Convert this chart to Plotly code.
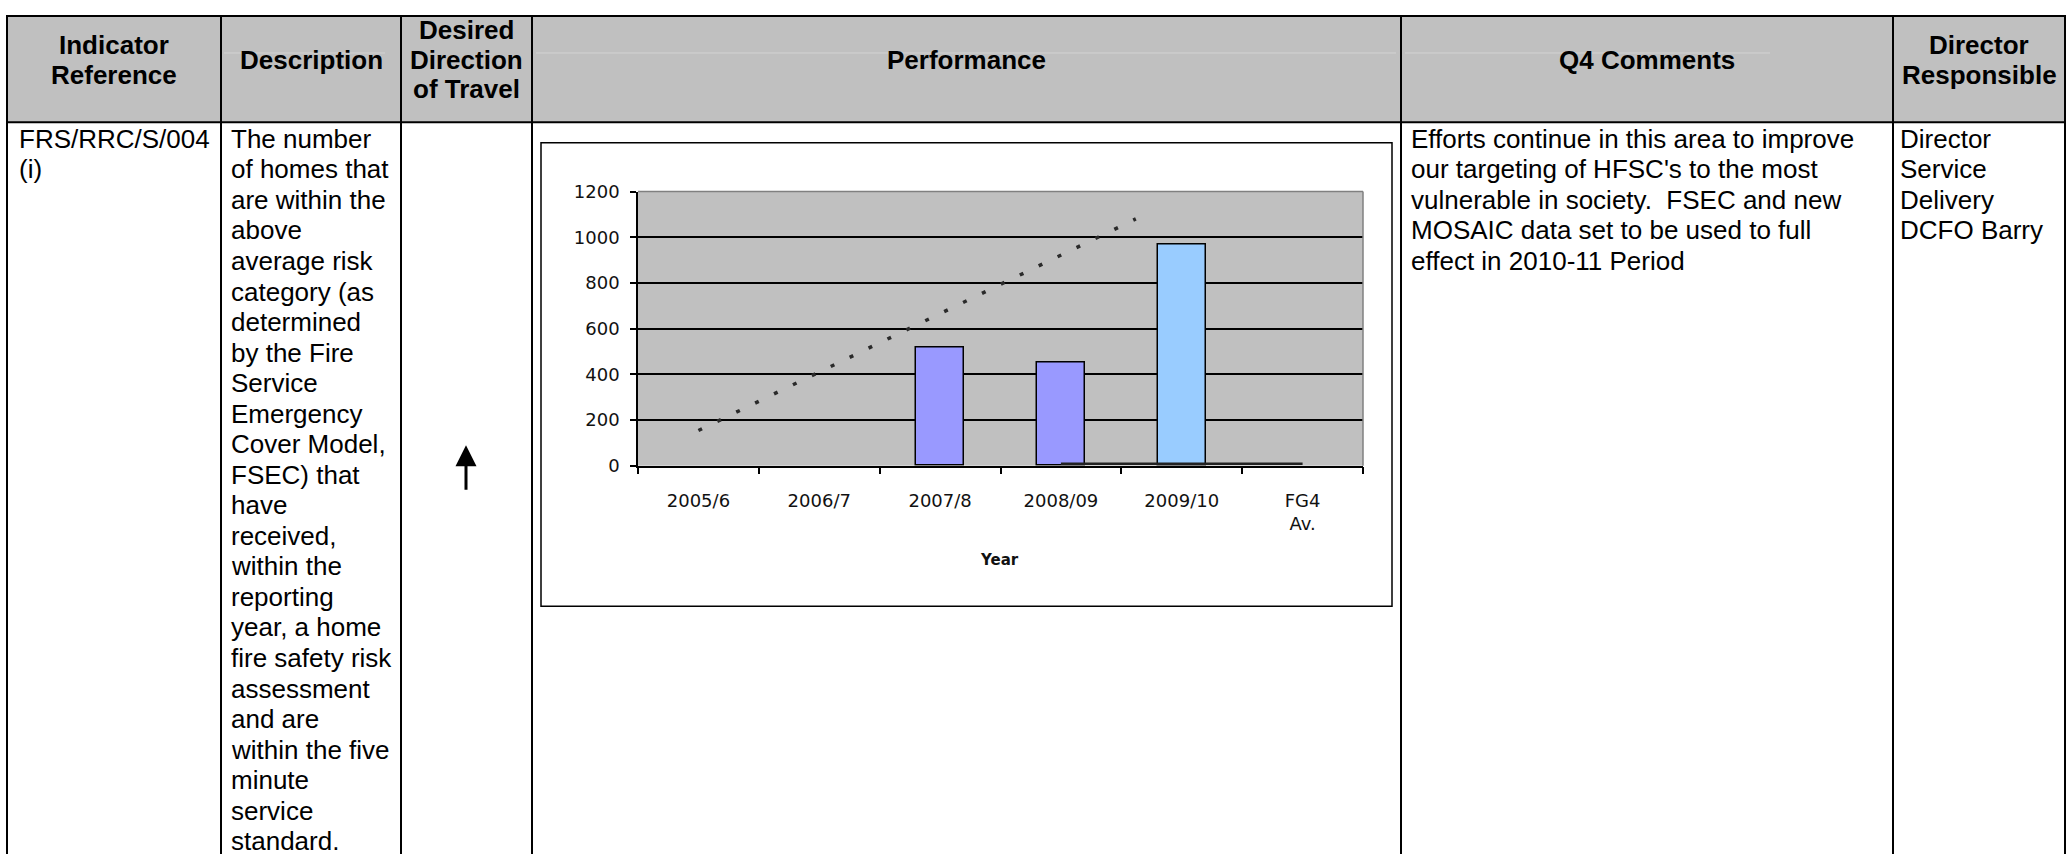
import plotly.graph_objects as go

# ---------------- data ----------------
categories = ["2005/6", "2006/7", "2007/8", "2008/09", "2009/10", "FG4<br>Av."]
performance = [None, None, 517, 450, 967, None]
fg4_average = [None, None, None, 8, 8, 8]
trend_index = [0, 3.62]
trend_value = [154, 1080]
y_ticks = [0, 200, 400, 600, 800, 1000, 1200]

header_indicator = ["Indicator", "Reference"]
header_description = ["Description"]
header_direction = ["Desired", "Direction", "of Travel"]
header_performance = ["Performance"]
header_comments = ["Q4 Comments"]
header_director = ["Director", "Responsible"]

indicator_ref = ["FRS/RRC/S/004", "(i)"]
description = ["The number", "of homes that", "are within the", "above", "average risk",
               "category (as", "determined", "by the Fire", "Service", "Emergency",
               "Cover Model,", "FSEC) that", "have", "received,", "within the",
               "reporting", "year, a home", "fire safety risk", "assessment", "and are",
               "within the five", "minute", "service", "standard."]
comments = ["Efforts continue in this area to improve",
            "our targeting of HFSC's to the most",
            "vulnerable in society. \u00a0FSEC and new",
            "MOSAIC data set to be used to full",
            "effect in 2010-11 Period"]
director = ["Director", "Service", "Delivery", "DCFO Barry"]

# ---------------- geometry helpers ----------------
W, H = 2071, 864
def px(x):
    return x / W
def py(y):
    return 1 - y / H

TABLE_FONT = "Liberation Sans, Arial, sans-serif"
CHART_FONT = "DejaVu Sans, Verdana, sans-serif"

fig = go.Figure()

bar_colors = ["#9999ff", "#9999ff", "#9999ff", "#9999ff", "#99ccff", "#9999ff"]
fig.add_trace(go.Bar(x=list(range(len(categories))), y=performance, width=0.4,
                     marker=dict(color=bar_colors, line=dict(color="black", width=1.5)),
                     showlegend=False, hoverinfo="skip"))
fig.add_trace(go.Scatter(x=list(range(len(categories))), y=fg4_average, mode="lines",
                         line=dict(color="#222222", width=2.5), showlegend=False,
                         hoverinfo="skip"))
fig.add_trace(go.Scatter(x=trend_index, y=trend_value, mode="lines",
                         line=dict(color="#2a2a2a", width=3.5, dash="4px,17px"),
                         showlegend=False, hoverinfo="skip"))

PL, PR, PT, PB = 638, 1363, 185, 466
fig.update_layout(
    width=W, height=H, margin=dict(l=0, r=0, t=0, b=0),
    paper_bgcolor="white", plot_bgcolor="#c0c0c0",
    xaxis=dict(domain=[px(PL), px(PR)], range=[-0.5, 5.5], tickmode="array",
               tickvals=list(range(len(categories))), ticktext=categories,
               ticks="", showgrid=False, zeroline=False, showline=True,
               linecolor="black", linewidth=1.5,
               tickfont=dict(family=CHART_FONT, size=18, color="#111111"),
               ticklabelstandoff=18,
               minor=dict(tickvals=[-0.5, 0.5, 1.5, 2.5, 3.5, 4.5, 5.5], ticks="outside",
                          ticklen=7, tickwidth=1.5, tickcolor="black", showgrid=False)),
    yaxis=dict(domain=[py(PB), py(PT)], range=[0, 1200], tickmode="array",
               tickvals=y_ticks, ticks="outside", ticklen=6, tickwidth=1.5,
               tickcolor="black", showgrid=True, gridcolor="black", gridwidth=1.5,
               zeroline=False, showline=True, linecolor="black", linewidth=1.5,
               tickfont=dict(family=CHART_FONT, size=18, color="#111111"),
               ticklabelstandoff=7),
    bargap=0, font=dict(family=TABLE_FONT),
)

shapes = []
def hline(y, x0, x1, color="black", width=2):
    shapes.append(dict(type="line", xref="paper", yref="paper", x0=px(x0), x1=px(x1),
                       y0=py(y), y1=py(y), line=dict(color=color, width=width)))
def vline(x, y0, y1, color="black", width=2):
    shapes.append(dict(type="line", xref="paper", yref="paper", x0=px(x), x1=px(x),
                       y0=py(y0), y1=py(y1), line=dict(color=color, width=width)))

# header background
shapes.append(dict(type="rect", xref="paper", yref="paper", x0=px(7), x1=px(2065),
                   y0=py(114), y1=py(5), fillcolor="#c0c0c0", line=dict(width=0),
                   layer="below"))
# faint shading artefacts in header
hline(43, 224, 385, color="#d4d4d4", width=1)
hline(43, 536, 1396, color="#d4d4d4", width=1)
hline(43, 1405, 1770, color="#d4d4d4", width=1)

# table grid
hline(5, 6, 2066)
hline(114, 6, 2066)
for x in [7, 221, 401, 532, 1401, 1893, 2065]:
    vline(x, 4, 864)

# chart frame
shapes.append(dict(type="rect", xref="paper", yref="paper", x0=px(541), x1=px(1392),
                   y0=py(610), y1=py(135), line=dict(color="black", width=1.5)))
# plot area top/right border
hline(PT, PL, PR, color="#808080", width=1.5)
vline(PR, PT, PB, color="#808080", width=1.5)

fig.update_layout(shapes=shapes)

annotations = []
def text(x, y, s, size=26, bold=False, anchor="left", family=TABLE_FONT, color="black"):
    annotations.append(dict(xref="paper", yref="paper", x=px(x), y=py(y),
                            text=("<b>%s</b>" % s) if bold else s, showarrow=False,
                            xanchor=anchor, yanchor="middle",
                            font=dict(family=family, size=size, color=color)))

def block(x, y0, lines, anchor="left", bold=False, size=26, ls=31.3):
    for i, s in enumerate(lines):
        text(x, y0 + i * ls, s, size=size, bold=bold, anchor=anchor)

HC = 50   # header centre line
HLS = 30.4
block(114, HC - HLS / 2, header_indicator, anchor="center", bold=True, ls=HLS)
block(311, HC, header_description, anchor="center", bold=True)
block(466, HC - HLS, header_direction, anchor="center", bold=True, ls=HLS)
block(966, HC, header_performance, anchor="center", bold=True)
block(1647, HC, header_comments, anchor="center", bold=True)
block(1979, HC - HLS / 2, header_director, anchor="center", bold=True, ls=HLS)

TOP = 131
block(17, TOP, indicator_ref)
block(229, TOP, description)
block(1409, TOP, comments)
block(1898, TOP, director)

text(999, 563, "Year", size=15, bold=True, anchor="center", family=CHART_FONT,
     color="#111111")

annotations.append(dict(xref="paper", yref="paper", x=px(466), y=py(445), ax=0, ay=46,
                        text="", showarrow=True, arrowhead=2, arrowsize=1.4,
                        arrowwidth=3, arrowcolor="black"))

fig.update_layout(annotations=annotations)

fig.write_html("out.html")
